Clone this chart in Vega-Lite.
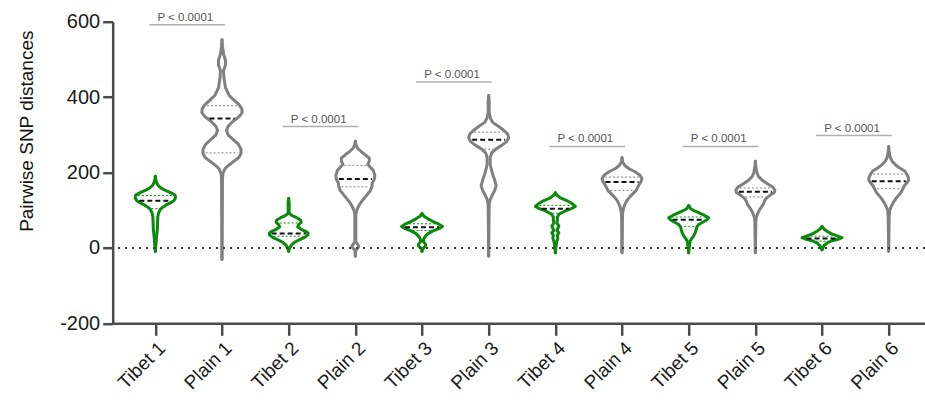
{
  "$schema": "https://vega.github.io/schema/vega-lite/v6.json",
  "width": 812.3,
  "height": 301.6,
  "autosize": {"type": "none"},
  "padding": {"left": 112.7, "top": 21.7, "right": 0, "bottom": 76.7},
  "background": "white",
  "config": {
    "view": {"stroke": null},
    "font": "Liberation Sans",
    "axis": {"grid": false, "domainColor": "#4a4a4a", "domainWidth": 2.5, "tickColor": "#4a4a4a", "tickWidth": 2.5, "labelFont": "Liberation Sans", "labelColor": "#1a1a1a", "titleFont": "Liberation Sans", "titleColor": "#111111", "titleFontWeight": "normal"},
    "axisX": {"labelAngle": -45, "labelFontSize": 19, "tickSize": 12, "labelPadding": 3, "labelAlign": "right", "labelBaseline": "top", "title": null},
    "axisY": {"labelFontSize": 20, "tickSize": 10, "labelPadding": 3, "titleFontSize": 19, "titleX": -80, "titleY": 109, "titleBaseline": "alphabetic", "titleAlign": "center", "titleAngle": -90}
  },
  "datasets": {
    "outline": [
      {"g":"Tibet 1","v":190,"w":0},{"g":"Tibet 1","v":180,"w":0.5},{"g":"Tibet 1","v":172,"w":1.5},{"g":"Tibet 1","v":165,"w":3},{"g":"Tibet 1","v":159,"w":5.5},{"g":"Tibet 1","v":154,"w":9},{"g":"Tibet 1","v":148,"w":14},{"g":"Tibet 1","v":143,"w":18},{"g":"Tibet 1","v":139,"w":20},{"g":"Tibet 1","v":132,"w":20},{"g":"Tibet 1","v":125,"w":18.5},{"g":"Tibet 1","v":120,"w":15.5},{"g":"Tibet 1","v":115,"w":11.5},{"g":"Tibet 1","v":108,"w":7.5},{"g":"Tibet 1","v":102,"w":5},{"g":"Tibet 1","v":94,"w":3.5},{"g":"Tibet 1","v":84,"w":2.5},{"g":"Tibet 1","v":65,"w":2.2},{"g":"Tibet 1","v":49,"w":2},{"g":"Tibet 1","v":30,"w":1.2},{"g":"Tibet 1","v":13,"w":0.7},{"g":"Tibet 1","v":0,"w":0.3},{"g":"Tibet 1","v":-9,"w":0},
      {"g":"Plain 1","v":552,"w":0},{"g":"Plain 1","v":535,"w":0.5},{"g":"Plain 1","v":515,"w":1.5},{"g":"Plain 1","v":497,"w":3.5},{"g":"Plain 1","v":485,"w":3.5},{"g":"Plain 1","v":470,"w":1.5},{"g":"Plain 1","v":450,"w":2},{"g":"Plain 1","v":425,"w":3.5},{"g":"Plain 1","v":405,"w":7},{"g":"Plain 1","v":392,"w":12},{"g":"Plain 1","v":380,"w":17},{"g":"Plain 1","v":368,"w":20},{"g":"Plain 1","v":358,"w":20},{"g":"Plain 1","v":348,"w":17},{"g":"Plain 1","v":336,"w":11},{"g":"Plain 1","v":322,"w":6},{"g":"Plain 1","v":312,"w":4.5},{"g":"Plain 1","v":300,"w":6},{"g":"Plain 1","v":288,"w":11},{"g":"Plain 1","v":276,"w":16},{"g":"Plain 1","v":262,"w":19},{"g":"Plain 1","v":250,"w":19},{"g":"Plain 1","v":240,"w":17},{"g":"Plain 1","v":230,"w":12},{"g":"Plain 1","v":220,"w":7},{"g":"Plain 1","v":210,"w":3},{"g":"Plain 1","v":198,"w":1},{"g":"Plain 1","v":185,"w":0.5},{"g":"Plain 1","v":-31,"w":0},
      {"g":"Tibet 2","v":131,"w":0},{"g":"Tibet 2","v":120,"w":0.5},{"g":"Tibet 2","v":92,"w":0.5},{"g":"Tibet 2","v":86,"w":3},{"g":"Tibet 2","v":80,"w":8},{"g":"Tibet 2","v":74,"w":12},{"g":"Tibet 2","v":68,"w":12.5},{"g":"Tibet 2","v":62,"w":10},{"g":"Tibet 2","v":56,"w":9},{"g":"Tibet 2","v":50,"w":12},{"g":"Tibet 2","v":44,"w":17},{"g":"Tibet 2","v":39,"w":19.5},{"g":"Tibet 2","v":34,"w":19},{"g":"Tibet 2","v":28,"w":16},{"g":"Tibet 2","v":22,"w":11},{"g":"Tibet 2","v":15,"w":6},{"g":"Tibet 2","v":8,"w":3},{"g":"Tibet 2","v":0,"w":1},{"g":"Tibet 2","v":-9,"w":0},
      {"g":"Plain 2","v":283,"w":0},{"g":"Plain 2","v":275,"w":0.5},{"g":"Plain 2","v":265,"w":2},{"g":"Plain 2","v":255,"w":6},{"g":"Plain 2","v":247,"w":10},{"g":"Plain 2","v":238,"w":14},{"g":"Plain 2","v":230,"w":14},{"g":"Plain 2","v":222,"w":12.5},{"g":"Plain 2","v":214,"w":15},{"g":"Plain 2","v":205,"w":18},{"g":"Plain 2","v":192,"w":19.5},{"g":"Plain 2","v":182,"w":19},{"g":"Plain 2","v":172,"w":17},{"g":"Plain 2","v":162,"w":16.5},{"g":"Plain 2","v":152,"w":15},{"g":"Plain 2","v":142,"w":12},{"g":"Plain 2","v":132,"w":9},{"g":"Plain 2","v":122,"w":6},{"g":"Plain 2","v":112,"w":3.5},{"g":"Plain 2","v":100,"w":1.5},{"g":"Plain 2","v":90,"w":0.5},{"g":"Plain 2","v":15,"w":0.5},{"g":"Plain 2","v":9,"w":2.5},{"g":"Plain 2","v":4,"w":3.5},{"g":"Plain 2","v":-1,"w":2.5},{"g":"Plain 2","v":-6,"w":0.5},{"g":"Plain 2","v":-22,"w":0},
      {"g":"Tibet 3","v":91,"w":0},{"g":"Tibet 3","v":84,"w":2},{"g":"Tibet 3","v":77,"w":6},{"g":"Tibet 3","v":70,"w":11},{"g":"Tibet 3","v":63,"w":17},{"g":"Tibet 3","v":57,"w":20.5},{"g":"Tibet 3","v":51,"w":17},{"g":"Tibet 3","v":45,"w":11},{"g":"Tibet 3","v":38,"w":6},{"g":"Tibet 3","v":30,"w":3},{"g":"Tibet 3","v":22,"w":1.5},{"g":"Tibet 3","v":16,"w":1.5},{"g":"Tibet 3","v":10,"w":3.5},{"g":"Tibet 3","v":5,"w":3.5},{"g":"Tibet 3","v":0,"w":1.5},{"g":"Tibet 3","v":-4,"w":0.5},{"g":"Tibet 3","v":-9,"w":0},
      {"g":"Plain 3","v":404,"w":0},{"g":"Plain 3","v":390,"w":0.5},{"g":"Plain 3","v":360,"w":0.5},{"g":"Plain 3","v":345,"w":1.5},{"g":"Plain 3","v":333,"w":4},{"g":"Plain 3","v":322,"w":10},{"g":"Plain 3","v":312,"w":15},{"g":"Plain 3","v":302,"w":19},{"g":"Plain 3","v":292,"w":20},{"g":"Plain 3","v":282,"w":18},{"g":"Plain 3","v":272,"w":13},{"g":"Plain 3","v":262,"w":7},{"g":"Plain 3","v":252,"w":3},{"g":"Plain 3","v":240,"w":1.5},{"g":"Plain 3","v":222,"w":1.5},{"g":"Plain 3","v":210,"w":2.5},{"g":"Plain 3","v":195,"w":4},{"g":"Plain 3","v":180,"w":6},{"g":"Plain 3","v":165,"w":7.5},{"g":"Plain 3","v":152,"w":6},{"g":"Plain 3","v":140,"w":3.5},{"g":"Plain 3","v":128,"w":1.5},{"g":"Plain 3","v":115,"w":0.5},{"g":"Plain 3","v":-22,"w":0},
      {"g":"Tibet 4","v":146,"w":0},{"g":"Tibet 4","v":140,"w":1.5},{"g":"Tibet 4","v":133,"w":5},{"g":"Tibet 4","v":125,"w":12},{"g":"Tibet 4","v":117,"w":17},{"g":"Tibet 4","v":110,"w":20},{"g":"Tibet 4","v":104,"w":16},{"g":"Tibet 4","v":98,"w":10},{"g":"Tibet 4","v":90,"w":4},{"g":"Tibet 4","v":82,"w":2},{"g":"Tibet 4","v":74,"w":2},{"g":"Tibet 4","v":66,"w":1.5},{"g":"Tibet 4","v":58,"w":3.5},{"g":"Tibet 4","v":52,"w":2.5},{"g":"Tibet 4","v":46,"w":1.5},{"g":"Tibet 4","v":40,"w":3.5},{"g":"Tibet 4","v":34,"w":2},{"g":"Tibet 4","v":26,"w":2.5},{"g":"Tibet 4","v":18,"w":1.5},{"g":"Tibet 4","v":10,"w":1},{"g":"Tibet 4","v":0,"w":0.5},{"g":"Tibet 4","v":-13,"w":0},
      {"g":"Plain 4","v":239,"w":0},{"g":"Plain 4","v":228,"w":0.5},{"g":"Plain 4","v":218,"w":3},{"g":"Plain 4","v":210,"w":7},{"g":"Plain 4","v":202,"w":13},{"g":"Plain 4","v":193,"w":18},{"g":"Plain 4","v":184,"w":20},{"g":"Plain 4","v":176,"w":19},{"g":"Plain 4","v":168,"w":17},{"g":"Plain 4","v":160,"w":15.5},{"g":"Plain 4","v":152,"w":14},{"g":"Plain 4","v":144,"w":11},{"g":"Plain 4","v":136,"w":8},{"g":"Plain 4","v":126,"w":5},{"g":"Plain 4","v":116,"w":3},{"g":"Plain 4","v":105,"w":1.5},{"g":"Plain 4","v":90,"w":0.5},{"g":"Plain 4","v":-13,"w":0},
      {"g":"Tibet 5","v":112,"w":0},{"g":"Tibet 5","v":104,"w":2},{"g":"Tibet 5","v":98,"w":6},{"g":"Tibet 5","v":92,"w":11},{"g":"Tibet 5","v":86,"w":16},{"g":"Tibet 5","v":80,"w":20},{"g":"Tibet 5","v":74,"w":18},{"g":"Tibet 5","v":68,"w":14},{"g":"Tibet 5","v":62,"w":10},{"g":"Tibet 5","v":55,"w":8},{"g":"Tibet 5","v":48,"w":7.5},{"g":"Tibet 5","v":40,"w":6.5},{"g":"Tibet 5","v":32,"w":5},{"g":"Tibet 5","v":25,"w":3},{"g":"Tibet 5","v":18,"w":1.5},{"g":"Tibet 5","v":10,"w":1},{"g":"Tibet 5","v":0,"w":0.5},{"g":"Tibet 5","v":-13,"w":0},
      {"g":"Plain 5","v":230,"w":0},{"g":"Plain 5","v":215,"w":0.5},{"g":"Plain 5","v":200,"w":1.5},{"g":"Plain 5","v":190,"w":3},{"g":"Plain 5","v":180,"w":6.5},{"g":"Plain 5","v":170,"w":12},{"g":"Plain 5","v":162,"w":17},{"g":"Plain 5","v":154,"w":19.5},{"g":"Plain 5","v":147,"w":19},{"g":"Plain 5","v":140,"w":15},{"g":"Plain 5","v":132,"w":11},{"g":"Plain 5","v":124,"w":9},{"g":"Plain 5","v":116,"w":8},{"g":"Plain 5","v":108,"w":6},{"g":"Plain 5","v":100,"w":4},{"g":"Plain 5","v":92,"w":2.5},{"g":"Plain 5","v":82,"w":1},{"g":"Plain 5","v":70,"w":0.5},{"g":"Plain 5","v":-13,"w":0},
      {"g":"Tibet 6","v":57,"w":0},{"g":"Tibet 6","v":50,"w":2},{"g":"Tibet 6","v":44,"w":5},{"g":"Tibet 6","v":38,"w":9},{"g":"Tibet 6","v":32,"w":15},{"g":"Tibet 6","v":27,"w":20},{"g":"Tibet 6","v":23,"w":16},{"g":"Tibet 6","v":19,"w":10},{"g":"Tibet 6","v":13,"w":5},{"g":"Tibet 6","v":6,"w":2},{"g":"Tibet 6","v":-5,"w":0},
      {"g":"Plain 6","v":269,"w":0},{"g":"Plain 6","v":255,"w":0.5},{"g":"Plain 6","v":240,"w":1.5},{"g":"Plain 6","v":230,"w":3.5},{"g":"Plain 6","v":220,"w":7},{"g":"Plain 6","v":212,"w":11},{"g":"Plain 6","v":204,"w":16},{"g":"Plain 6","v":196,"w":18},{"g":"Plain 6","v":188,"w":19.5},{"g":"Plain 6","v":180,"w":20},{"g":"Plain 6","v":172,"w":18},{"g":"Plain 6","v":164,"w":15.5},{"g":"Plain 6","v":156,"w":14},{"g":"Plain 6","v":148,"w":12.5},{"g":"Plain 6","v":140,"w":10},{"g":"Plain 6","v":130,"w":7},{"g":"Plain 6","v":120,"w":4.5},{"g":"Plain 6","v":110,"w":2.5},{"g":"Plain 6","v":100,"w":1},{"g":"Plain 6","v":85,"w":0.5},{"g":"Plain 6","v":-9,"w":0}
    ],
    "stats": [
      {"g":"Tibet 1","k":"m","v":125,"w":-16},{"g":"Tibet 1","k":"m","v":125,"w":16},{"g":"Tibet 1","k":"q","v":139,"w":-17.5},{"g":"Tibet 1","k":"q","v":139,"w":17.5},{"g":"Tibet 1","k":"q","v":104,"w":-4},{"g":"Tibet 1","k":"q","v":104,"w":4},
      {"g":"Plain 1","k":"m","v":343,"w":-12.5},{"g":"Plain 1","k":"m","v":343,"w":12.5},{"g":"Plain 1","k":"q","v":377,"w":-15},{"g":"Plain 1","k":"q","v":377,"w":15},{"g":"Plain 1","k":"q","v":252,"w":-16.5},{"g":"Plain 1","k":"q","v":252,"w":16.5},
      {"g":"Tibet 2","k":"m","v":38,"w":-17},{"g":"Tibet 2","k":"m","v":38,"w":17},{"g":"Tibet 2","k":"q","v":66,"w":-9},{"g":"Tibet 2","k":"q","v":66,"w":9},{"g":"Tibet 2","k":"q","v":31,"w":-15},{"g":"Tibet 2","k":"q","v":31,"w":15},
      {"g":"Plain 2","k":"m","v":183,"w":-16.5},{"g":"Plain 2","k":"m","v":183,"w":16.5},{"g":"Plain 2","k":"q","v":219,"w":-11},{"g":"Plain 2","k":"q","v":219,"w":11},{"g":"Plain 2","k":"q","v":162,"w":-14},{"g":"Plain 2","k":"q","v":162,"w":14},
      {"g":"Tibet 3","k":"m","v":55,"w":-17},{"g":"Tibet 3","k":"m","v":55,"w":17},{"g":"Tibet 3","k":"q","v":64,"w":-13},{"g":"Tibet 3","k":"q","v":64,"w":13},{"g":"Tibet 3","k":"q","v":46,"w":-9.5},{"g":"Tibet 3","k":"q","v":46,"w":9.5},
      {"g":"Plain 3","k":"m","v":287,"w":-16.5},{"g":"Plain 3","k":"m","v":287,"w":16.5},{"g":"Plain 3","k":"q","v":307,"w":-14.5},{"g":"Plain 3","k":"q","v":307,"w":14.5},{"g":"Plain 3","k":"q","v":262,"w":-4.5},{"g":"Plain 3","k":"q","v":262,"w":4.5},
      {"g":"Tibet 4","k":"m","v":104,"w":-13.5},{"g":"Tibet 4","k":"m","v":104,"w":13.5},{"g":"Tibet 4","k":"q","v":113,"w":-16},{"g":"Tibet 4","k":"q","v":113,"w":16},{"g":"Tibet 4","k":"q","v":92,"w":-3},{"g":"Tibet 4","k":"q","v":92,"w":3},
      {"g":"Plain 4","k":"m","v":175,"w":-16.5},{"g":"Plain 4","k":"m","v":175,"w":16.5},{"g":"Plain 4","k":"q","v":188,"w":-17},{"g":"Plain 4","k":"q","v":188,"w":17},{"g":"Plain 4","k":"q","v":152,"w":-11.5},{"g":"Plain 4","k":"q","v":152,"w":11.5},
      {"g":"Tibet 5","k":"m","v":75,"w":-16},{"g":"Tibet 5","k":"m","v":75,"w":16},{"g":"Tibet 5","k":"q","v":82,"w":-17},{"g":"Tibet 5","k":"q","v":82,"w":17},{"g":"Tibet 5","k":"q","v":57,"w":-8.5},{"g":"Tibet 5","k":"q","v":57,"w":8.5},
      {"g":"Plain 5","k":"m","v":149,"w":-16.5},{"g":"Plain 5","k":"m","v":149,"w":16.5},{"g":"Plain 5","k":"q","v":159,"w":-15.5},{"g":"Plain 5","k":"q","v":159,"w":15.5},{"g":"Plain 5","k":"q","v":135,"w":-10},{"g":"Plain 5","k":"q","v":135,"w":10},
      {"g":"Tibet 6","k":"m","v":25,"w":-15.5},{"g":"Tibet 6","k":"m","v":25,"w":15.5},{"g":"Tibet 6","k":"q","v":31,"w":-11.5},{"g":"Tibet 6","k":"q","v":31,"w":11.5},{"g":"Tibet 6","k":"q","v":18,"w":-6.5},{"g":"Tibet 6","k":"q","v":18,"w":6.5},
      {"g":"Plain 6","k":"m","v":177,"w":-17},{"g":"Plain 6","k":"m","v":177,"w":17},{"g":"Plain 6","k":"q","v":196,"w":-15.5},{"g":"Plain 6","k":"q","v":196,"w":15.5},{"g":"Plain 6","k":"q","v":157,"w":-11.5},{"g":"Plain 6","k":"q","v":157,"w":11.5}
    ],
    "pairs": [
      {"a":"Tibet 1","b":"Plain 1","v":592,"label":"P < 0.0001"},
      {"a":"Tibet 2","b":"Plain 2","v":322,"label":"P < 0.0001"},
      {"a":"Tibet 3","b":"Plain 3","v":440,"label":"P < 0.0001"},
      {"a":"Tibet 4","b":"Plain 4","v":269,"label":"P < 0.0001"},
      {"a":"Tibet 5","b":"Plain 5","v":269,"label":"P < 0.0001"},
      {"a":"Tibet 6","b":"Plain 6","v":298,"label":"P < 0.0001"}
    ]
  },
  "resolve": {"scale": {"xOffset": "independent"}},
  "layer": [
    {
      "data": {"name": "outline"},
      "mark": {"type": "line", "strokeWidth": 3, "strokeJoin": "round", "strokeCap": "round"},
      "encoding": {
        "x": {"field": "g", "type": "nominal", "sort": null, "title": null,
          "scale": {"type": "point", "domain": ["Tibet 1","Plain 1","Tibet 2","Plain 2","Tibet 3","Plain 3","Tibet 4","Plain 4","Tibet 5","Plain 5","Tibet 6","Plain 6"], "padding": 0.592, "align": 0.54}},
        "y": {"field": "v", "type": "quantitative", "title": "Pairwise SNP distances",
          "scale": {"domain": [-200, 600], "nice": false, "zero": false},
          "axis": {"values": [-200, 0, 200, 400, 600], "labelExpr": "'' + datum.value"}},
        "xOffset": {"field": "w", "type": "quantitative", "scale": {"domain": [-30, 30], "range": [-30, 30]}},
        "color": {"field": "g", "type": "nominal", "legend": null,
          "scale": {"domain": ["Tibet 1","Plain 1","Tibet 2","Plain 2","Tibet 3","Plain 3","Tibet 4","Plain 4","Tibet 5","Plain 5","Tibet 6","Plain 6"],
            "range": ["#0a8a0a","#808080","#0a8a0a","#808080","#0a8a0a","#808080","#0a8a0a","#808080","#0a8a0a","#808080","#0a8a0a","#808080"]}},
        "order": {"field": "v", "type": "quantitative"}
      }
    },
    {
      "data": {"name": "outline"},
      "mark": {"type": "line", "strokeWidth": 3, "strokeJoin": "round", "strokeCap": "round"},
      "encoding": {
        "x": {"field": "g", "type": "nominal", "sort": null, "title": null},
        "y": {"field": "v", "type": "quantitative", "title": "Pairwise SNP distances"},
        "xOffset": {"field": "w", "type": "quantitative", "scale": {"domain": [-30, 30], "range": [30, -30]}},
        "color": {"field": "g", "type": "nominal", "legend": null},
        "order": {"field": "v", "type": "quantitative"}
      }
    },
    {
      "data": {"values": [{}]},
      "mark": {"type": "rule", "color": "#3a3a3a", "strokeWidth": 2, "strokeDash": [2, 5]},
      "encoding": {"y": {"datum": 0, "type": "quantitative"}}
    },
    {
      "data": {"name": "stats"},
      "transform": [{"filter": "datum.k == 'q'"}],
      "mark": {"type": "line", "strokeWidth": 1, "strokeDash": [2, 2]},
      "encoding": {
        "x": {"field": "g", "type": "nominal", "sort": null, "title": null},
        "y": {"field": "v", "type": "quantitative", "title": "Pairwise SNP distances"},
        "xOffset": {"field": "w", "type": "quantitative", "scale": {"domain": [-30, 30], "range": [-30, 30]}},
        "color": {"field": "g", "type": "nominal", "legend": null},
        "detail": [{"field": "g"}, {"field": "v"}],
        "order": {"field": "w", "type": "quantitative"}
      }
    },
    {
      "data": {"name": "stats"},
      "transform": [{"filter": "datum.k == 'm'"}],
      "mark": {"type": "line", "strokeWidth": 2, "strokeDash": [5, 3], "color": "#111111"},
      "encoding": {
        "x": {"field": "g", "type": "nominal", "sort": null, "title": null},
        "y": {"field": "v", "type": "quantitative", "title": "Pairwise SNP distances"},
        "xOffset": {"field": "w", "type": "quantitative", "scale": {"domain": [-30, 30], "range": [-30, 30]}},
        "detail": [{"field": "g"}, {"field": "v"}],
        "order": {"field": "w", "type": "quantitative"}
      }
    },
    {
      "data": {"name": "pairs"},
      "mark": {"type": "rule", "color": "#b0b0b0", "strokeWidth": 1.5, "xOffset": -6, "x2Offset": 3},
      "encoding": {
        "x": {"field": "a", "type": "nominal", "title": null},
        "x2": {"field": "b"},
        "y": {"field": "v", "type": "quantitative", "title": "Pairwise SNP distances"}
      }
    },
    {
      "data": {"name": "pairs"},
      "mark": {"type": "text", "fontSize": 11.5, "color": "#555555", "dx": 30, "dy": -4, "align": "center", "baseline": "alphabetic", "font": "Liberation Sans"},
      "encoding": {
        "x": {"field": "a", "type": "nominal", "title": null},
        "y": {"field": "v", "type": "quantitative", "title": "Pairwise SNP distances"},
        "text": {"field": "label"}
      }
    }
  ]
}
